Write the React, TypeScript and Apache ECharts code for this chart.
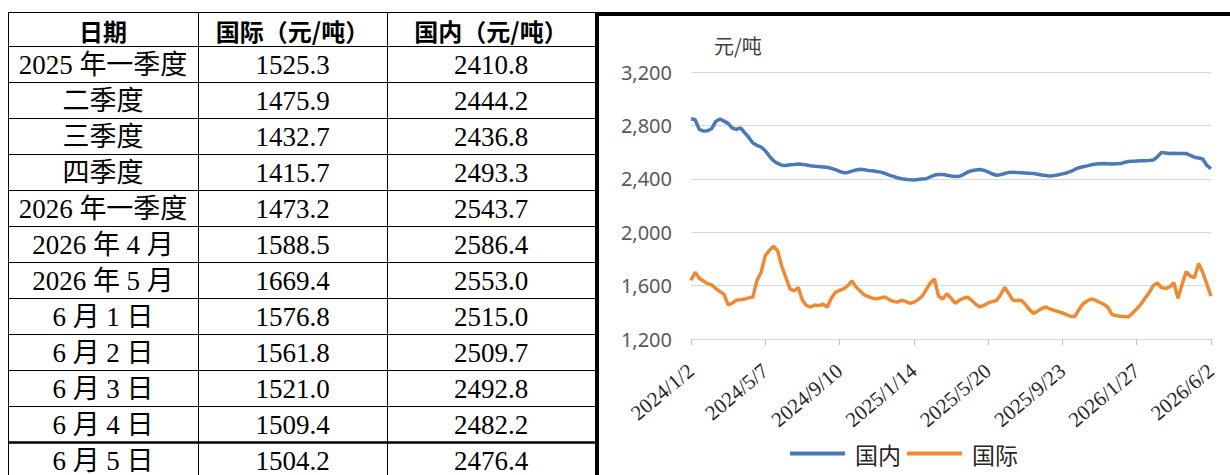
import React, { useEffect, useRef } from "react";
import * as echarts from "echarts";

// ---------- table data ----------
const tableHeaders = ["日期", "国际（元/吨）", "国内（元/吨）"];
const tableDates = [
  "2025 年一季度", "二季度", "三季度", "四季度", "2026 年一季度",
  "2026 年 4 月", "2026 年 5 月", "6 月 1 日", "6 月 2 日", "6 月 3 日", "6 月 4 日", "6 月 5 日",
];
const tableIntl = [1525.3, 1475.9, 1432.7, 1415.7, 1473.2, 1588.5, 1669.4, 1576.8, 1561.8, 1521.0, 1509.4, 1504.2];
const tableDomestic = [2410.8, 2444.2, 2436.8, 2493.3, 2543.7, 2586.4, 2553.0, 2515.0, 2509.7, 2492.8, 2482.2, 2476.4];

// ---------- chart data (weekly, from 2024/1/2) ----------
const startDate = "2024-01-02";
const seriesNames = ["国内", "国际"];
const unitLabel = "元/吨";
const domestic = [
  2850, 2842, 2770, 2758, 2760, 2775, 2830, 2848, 2832, 2815,
  2780, 2770, 2782, 2745, 2710, 2668, 2650, 2638, 2610, 2570,
  2535, 2515, 2502, 2500, 2505, 2507, 2510, 2508, 2503, 2498,
  2494, 2492, 2489, 2486, 2478, 2468, 2455, 2446, 2448, 2457,
  2466, 2471, 2467, 2463, 2460, 2455, 2450, 2440, 2428, 2418,
  2408, 2400, 2396, 2392, 2391, 2395, 2398, 2400, 2415, 2428,
  2432, 2433, 2427, 2421, 2418, 2419, 2432, 2450, 2460, 2466,
  2470, 2463, 2452, 2436, 2427, 2431, 2440, 2448, 2450, 2447,
  2445, 2443, 2441, 2440, 2434, 2428, 2424, 2420, 2424, 2430,
  2437, 2444, 2455, 2470, 2483, 2490, 2497, 2505, 2510, 2513,
  2514, 2512, 2510, 2512, 2514, 2522, 2529, 2532, 2533, 2535,
  2536, 2538, 2540, 2565, 2598, 2594, 2590, 2591, 2590, 2590,
  2589, 2575, 2562, 2556, 2548, 2500, 2476,
];
const international = [
  1640, 1700, 1655, 1635, 1615, 1605, 1580, 1555, 1535, 1455,
  1470, 1490, 1495, 1500, 1508, 1515, 1640, 1700, 1825, 1865,
  1895, 1860, 1745, 1660, 1575, 1560, 1585, 1490, 1450, 1440,
  1455, 1450, 1460, 1440, 1505, 1550, 1565, 1575, 1600, 1635,
  1590, 1560, 1530, 1518, 1505, 1502, 1508, 1514, 1495, 1482,
  1476, 1490, 1482, 1468, 1475, 1495, 1520, 1570, 1620, 1650,
  1520, 1500, 1540, 1505, 1468, 1490, 1505, 1514, 1490, 1460,
  1440, 1452, 1470, 1480, 1488, 1530, 1588, 1540, 1490, 1488,
  1490, 1460, 1420, 1392, 1410, 1428, 1440, 1425, 1415, 1405,
  1395, 1382, 1370, 1368, 1420, 1464, 1485, 1500, 1490, 1475,
  1460, 1438, 1385, 1375, 1370, 1368, 1365, 1395, 1425, 1460,
  1505, 1545, 1600, 1620, 1585, 1578, 1590, 1622, 1505, 1610,
  1705, 1670, 1660, 1765, 1700, 1610, 1520,
];

function buildCategories(n: number): string[] {
  const out: string[] = [];
  const base = new Date(startDate + "T00:00:00Z").getTime();
  for (let i = 0; i < n; i++) {
    const d = new Date(base + i * 7 * 86400000);
    out.push(`${d.getUTCFullYear()}/${d.getUTCMonth() + 1}/${d.getUTCDate()}`);
  }
  return out;
}

const SERIF = '"Liberation Serif", "Times New Roman", "Noto Sans CJK SC", serif';
const CJK = '"Noto Sans CJK SC", "Noto Sans", sans-serif';

function buildTableGraphics() {
  const els: any[] = [];
  const colX = [8, 198, 387];
  const tableRight = 595;
  const headerTop = 12;
  const headerBottom = 46;
  const rowH = 36;
  const lineYs = [headerTop, headerBottom];
  for (let k = 1; k < tableDates.length; k++) lineYs.push(headerBottom + k * rowH);
  lineYs.forEach((y, idx) => {
    const thick = idx === lineYs.length - 1;
    els.push({
      type: "line",
      shape: { x1: colX[0], y1: y + 0.5, x2: tableRight, y2: y + 0.5 },
      style: { stroke: "#000", lineWidth: thick ? 2.5 : 1 },
    });
  });
  colX.forEach((x) => {
    els.push({
      type: "line",
      shape: { x1: x + 0.5, y1: headerTop, x2: x + 0.5, y2: 480 },
      style: { stroke: "#000", lineWidth: 1 },
    });
  });
  const centers = [(8 + 198) / 2, (198 + 387) / 2, (387 + 595) / 2];
  tableHeaders.forEach((h, i) => {
    els.push({
      type: "text",
      x: centers[i],
      y: (headerTop + headerBottom) / 2 + 1,
      style: {
        text: h,
        fontSize: 24,
        fontWeight: "bold",
        fontFamily: CJK,
        fill: "#000",
        align: "center",
        verticalAlign: "middle",
        textAlign: "center",
        textVerticalAlign: "middle",
      },
    });
  });
  tableDates.forEach((d, k) => {
    const cy = headerBottom + k * rowH + rowH / 2 + 1;
    const cells = [d, tableIntl[k].toFixed(1), tableDomestic[k].toFixed(1)];
    cells.forEach((t, i) => {
      els.push({
        type: "text",
        x: centers[i],
        y: cy,
        style: {
          text: t,
          fontSize: 27,
          fontFamily: SERIF,
          fill: "#000",
          align: "center",
          verticalAlign: "middle",
          textAlign: "center",
          textVerticalAlign: "middle",
        },
      });
    });
  });
  // chart frame
  els.push({
    type: "rect",
    shape: { x: 597, y: 14, width: 700, height: 500 },
    style: { fill: "none", stroke: "#000", lineWidth: 4 },
  });
  els.push({
    type: "text",
    x: 714,
    y: 45,
    style: {
      text: unitLabel,
      fontSize: 20,
      fontFamily: CJK,
      fill: "#404040",
      align: "left",
      verticalAlign: "middle",
      textAlign: "left",
      textVerticalAlign: "middle",
    },
  });
  return els;
}

export default function App() {
  const ref = useRef<HTMLDivElement>(null);
  useEffect(() => {
    if (!ref.current) return;
    const chart = echarts.init(ref.current, undefined, { renderer: "svg" });
    const categories = buildCategories(domestic.length);
    chart.setOption({
      animation: false,
      backgroundColor: "#fff",
      graphic: { elements: buildTableGraphics() },
      grid: { left: 691, right: 19, top: 72, bottom: 136, containLabel: false },
      legend: {
        left: 785,
        top: 437,
        icon: "rect",
        itemWidth: 55,
        itemHeight: 4,
        itemGap: 6,
        data: seriesNames,
        textStyle: { fontSize: 23, fontFamily: CJK, color: "#262626", padding: [0, 0, 0, 5] },
      },
      xAxis: {
        type: "category",
        data: categories,
        boundaryGap: false,
        axisLine: { lineStyle: { color: "#d9d9d9", width: 1 } },
        axisTick: { interval: 17, length: 6, lineStyle: { color: "#bfbfbf" } },
        axisLabel: {
          interval: 17,
          rotate: 40,
          margin: 29,
          fontSize: 21,
          fontFamily: SERIF,
          color: "#262626",
        },
        splitLine: { show: false },
      },
      yAxis: {
        type: "value",
        min: 1200,
        max: 3200,
        interval: 400,
        axisLine: { show: false },
        axisTick: { show: false },
        axisLabel: {
          margin: 19,
          fontSize: 20,
          fontFamily: '"Noto Sans", sans-serif',
          color: "#595959",
          formatter: (v: number) => v.toLocaleString("en-US"),
        },
        splitLine: { lineStyle: { color: "#d9d9d9", width: 1 } },
      },
      series: [
        {
          name: seriesNames[0],
          type: "line",
          data: domestic,
          showSymbol: false,
          symbol: "none",
          lineStyle: { color: "#4a78b8", width: 3.5 },
          itemStyle: { color: "#4a78b8" },
        },
        {
          name: seriesNames[1],
          type: "line",
          data: international,
          showSymbol: false,
          symbol: "none",
          lineStyle: { color: "#ee8a34", width: 3.5 },
          itemStyle: { color: "#ee8a34" },
        },
      ],
    });
    return () => chart.dispose();
  }, []);
  return (
    <div
      ref={ref}
      style={{ position: "absolute", left: 0, top: 0, width: 1230, height: 475, background: "#fff" }}
    />
  );
}
